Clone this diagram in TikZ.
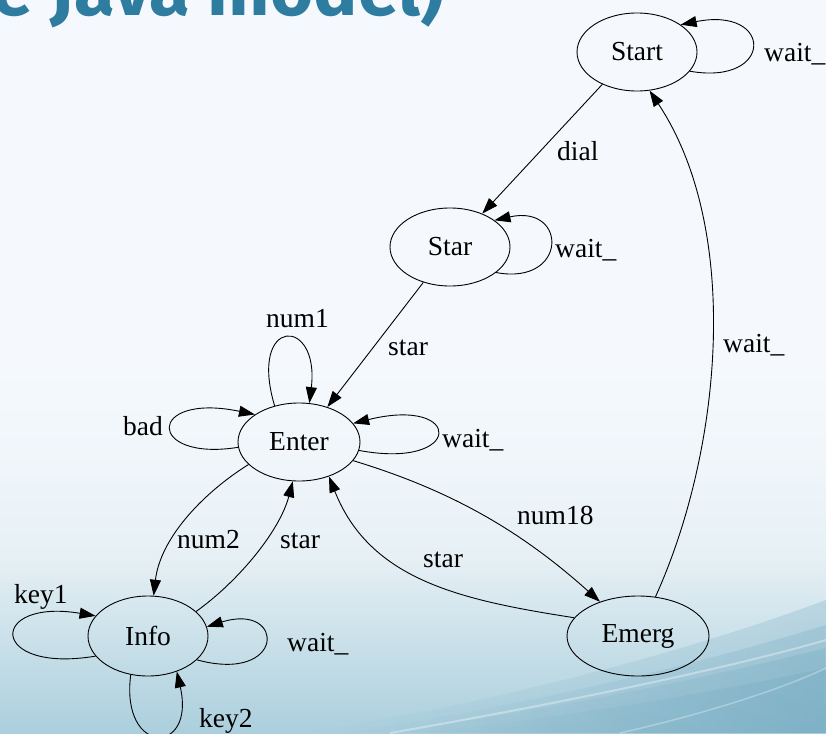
\documentclass[tikz,border=0pt]{standalone}
\usepackage{fontspec}
\setmainfont{Liberation Serif}
\newfontfamily\titlefont{Fira Sans}
\usetikzlibrary{shapes.geometric,arrows.meta,fadings}
\definecolor{bgtop}{HTML}{F5F9FD}
\definecolor{bgmid}{HTML}{E6F0F5}
\definecolor{bgbot}{HTML}{ABCFDD}
\definecolor{waver}{HTML}{6FA7BF}
\definecolor{titleblue}{HTML}{2E7CA0}
\pgfdeclareverticalshading{bgshade}{100bp}{color(0bp)=(bgbot); color(25bp)=(bgbot); color(37bp)=(bgmid); color(43bp)=(bgtop!60!bgmid); color(50bp)=(bgtop); color(100bp)=(bgtop)}
\tikzfading[name=wavefade, left color=transparent!100, right color=transparent!0]
\tikzset{
  state/.style={draw=black, line width=0.9pt, ellipse, inner sep=0pt, font=\fontsize{27.5}{30}\selectfont},
  lbl/.style={anchor=base west, inner sep=0pt, font=\fontsize{27.5}{30}\selectfont},
  edge/.style={draw=black, line width=0.9pt, -{Triangle[length=16pt,width=11pt]}},
  wavelayer/.style={fill=waver, fill opacity=0.27, path fading=wavefade},
}
\begin{document}
\begin{tikzpicture}[x=1pt,y=-1pt]
\useasboundingbox (0,0) rectangle (826,733);
% background
\shade[shading=bgshade] (0,0) rectangle (826,733);
\fill[wavelayer] (300,733) .. controls (520,700) and (720,640) .. (826,600) -- (826,733) -- cycle;
\fill[wavelayer] (340,733) .. controls (540,705) and (730,655) .. (826,625) -- (826,733) -- cycle;
\fill[wavelayer] (380,733) .. controls (560,710) and (740,670) .. (826,648) -- (826,733) -- cycle;
\fill[wavelayer] (420,733) .. controls (590,715) and (750,685) .. (826,668) -- (826,733) -- cycle;
\draw[white, opacity=0.35, line width=2pt] (390,733) .. controls (580,700) and (740,665) .. (826,640);
\draw[white, opacity=0.3, line width=1.5pt] (620,733) .. controls (700,715) and (780,690) .. (826,668);
% title (cut at the top, as in the reference)
\node[anchor=base west, inner sep=0pt, text=titleblue, font=\titlefont\bfseries\fontsize{74}{74}\selectfont] (title) at (-8,16) {e Java model)};
% states
\node[state, minimum width=120pt, minimum height=78pt] (Start) at (637,52) {Start};
\node[state, minimum width=120pt, minimum height=78pt] (Star) at (450,247) {Star};
\node[state, minimum width=122pt, minimum height=78pt] (Enter) at (299,442) {Enter};
\node[state, minimum width=120pt, minimum height=80pt] (Info) at (148,636) {Info};
\node[state, minimum width=142pt, minimum height=80pt] (Emerg) at (638,636) {Emerg};
% edges
\draw[edge] (Start.340) .. controls (774,86) and (774,6) .. (Start.32);
\draw[edge] (Start.223) -- (Star.46);
\draw[edge] (Star.331) .. controls (568,286) and (568,204) .. (Star.31);
\draw[edge] (Star.233) -- (Enter.51);
\draw[edge] (Enter.124) .. controls (248,316) and (320,316) .. (Enter.75);
\draw[edge] (Enter.185) .. controls (146,462) and (146,392) .. (Enter.148);
\draw[edge] (Enter.352) .. controls (464,470) and (464,396) .. (Enter.19);
\draw[edge] (Enter.341) .. controls (450,490) and (520,530) .. (Emerg.138);
\draw[edge] (Emerg.164) .. controls (460,600) and (370,580) .. (Enter.311);
\draw[edge] (Enter.204) .. controls (200,495) and (160,540) .. (Info.82);
\draw[edge] (Info.27) .. controls (240,580) and (280,530) .. (Enter.261);
\draw[edge] (Info.201) .. controls (-12,674) and (-12,598) .. (Info.159);
\draw[edge] (Info.334) .. controls (286,684) and (286,602) .. (Info.9);
\draw[edge] (Info.246) .. controls (120,756) and (196,756) .. (Info.309);
\draw[edge] (Emerg.66) .. controls (722,450) and (742,230) .. (Start.288);
% labels
\node[lbl] (l1) at (764,62) {wait\_};
\node[lbl] (l2) at (557,160) {dial};
\node[lbl] (l3) at (555,257) {wait\_};
\node[lbl] (l4) at (388,355) {star};
\node[lbl] (l5) at (266,327) {num1};
\node[lbl] (l6) at (123,435) {bad};
\node[lbl] (l7) at (442,447) {wait\_};
\node[lbl] (l8) at (517,524) {num18};
\node[lbl] (l9) at (423,567) {star};
\node[lbl] (l10) at (177,548) {num2};
\node[lbl] (l11) at (280,548) {star};
\node[lbl] (l12) at (14,603) {key1};
\node[lbl] (l13) at (287,651) {wait\_};
\node[lbl] (l14) at (199,727) {key2};
\node[lbl] (l15) at (723,352) {wait\_};
\end{tikzpicture}
\end{document}
